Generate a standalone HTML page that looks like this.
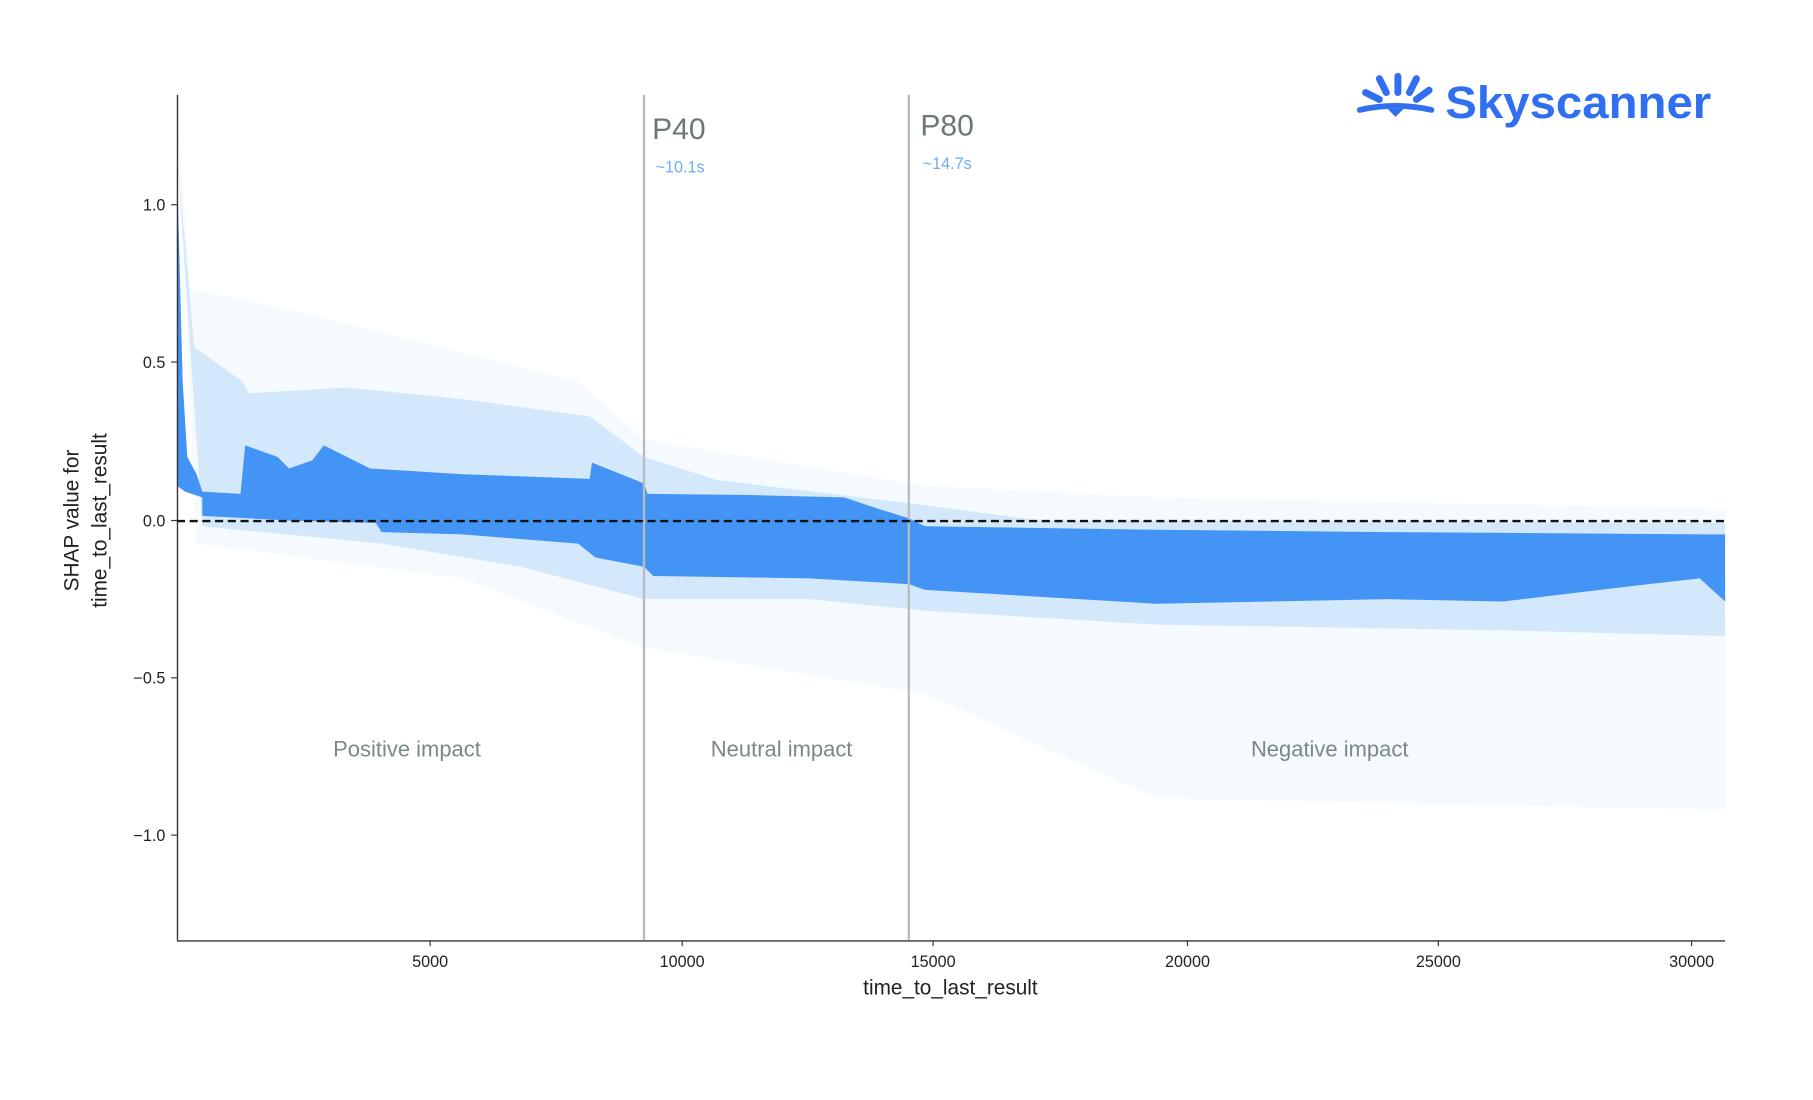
<!DOCTYPE html>
<html><head><meta charset="utf-8"><style>
html,body{margin:0;padding:0;background:#fff;width:1813px;height:1100px;overflow:hidden}
svg{display:block}
text{font-family:"Liberation Sans","DejaVu Sans",sans-serif}
</style></head><body>
<svg width="1813" height="1100" viewBox="0 0 1568 951" preserveAspectRatio="none">
<rect width="1568" height="951" fill="#fff"/>
<!-- faint halo -->
<polygon fill="#4394f5" opacity="0.05" points="153,100 165,250 215,260 300,280 500,330 557,380 800,420 1000,430 1492,440 1492,700 1000,690 800,600 557,560 400,500 170,470"/>
<!-- light halo -->
<polygon fill="#4394f5" opacity="0.18" points="153,130 168,300 210,330 215,340 300,335 400,345 510,360 557,395 620,415 786,435 900,450 1492,452 1492,550 1300,545 1000,540 800,528 700,518 557,518 450,490 330,470 175,455"/>
<!-- dense band -->
<polygon fill="#4394f5" points="153,140 158,330 162,395 170,410 175,425 208,427 212,385 240,395 250,405 270,398 280,385 300,395 320,405 400,410 510,414 512,400 557,418 560,427 650,428 730,430 760,440 786,448 800,455 1000,458 1200,460 1480,462 1492,462 1492,520 1470,500 1400,508 1300,520 1200,518 1000,522 900,516 800,510 786,505 700,500 565,498 557,490 515,482 500,470 400,462 330,460 325,452 250,450 175,446 175,430 160,425 153,420"/>
<!-- axes -->
<line x1="153.5" y1="82" x2="153.5" y2="813" stroke="#333" stroke-width="1.2"/>
<line x1="153" y1="813.5" x2="1492" y2="813.5" stroke="#333" stroke-width="1.2"/>
<!-- ticks -->
<g stroke="#333" stroke-width="1"><line x1="148" y1="177" x2="153" y2="177"/><line x1="148" y1="313" x2="153" y2="313"/><line x1="148" y1="450" x2="153" y2="450"/><line x1="148" y1="586" x2="153" y2="586"/><line x1="148" y1="722" x2="153" y2="722"/>
<line x1="372" y1="813" x2="372" y2="818"/><line x1="590" y1="813" x2="590" y2="818"/><line x1="807" y1="813" x2="807" y2="818"/><line x1="1027" y1="813" x2="1027" y2="818"/><line x1="1244" y1="813" x2="1244" y2="818"/><line x1="1463" y1="813" x2="1463" y2="818"/></g>
<g font-size="14" fill="#222" text-anchor="end"><text x="143" y="182">1.0</text><text x="143" y="318">0.5</text><text x="143" y="455">0.0</text><text x="143" y="591">−0.5</text><text x="143" y="727">−1.0</text></g>
<g font-size="14" fill="#222" text-anchor="middle"><text x="372" y="836">5000</text><text x="590" y="836">10000</text><text x="807" y="836">15000</text><text x="1027" y="836">20000</text><text x="1244" y="836">25000</text><text x="1463" y="836">30000</text></g>
<text x="822" y="860" font-size="18" fill="#222" text-anchor="middle">time_to_last_result</text>
<text transform="translate(68,450) rotate(-90)" font-size="18" fill="#222" text-anchor="middle">SHAP value for</text>
<text transform="translate(92,450) rotate(-90)" font-size="18" fill="#222" text-anchor="middle">time_to_last_result</text>
<!-- vlines -->
<line x1="557" y1="82" x2="557" y2="813" stroke="#b8bcbc" stroke-width="2"/>
<line x1="786" y1="82" x2="786" y2="813" stroke="#b8bcbc" stroke-width="2"/>
<!-- zero line -->
<line x1="153" y1="450.5" x2="1492" y2="450.5" stroke="#111" stroke-width="2" stroke-dasharray="7,4"/>
<text x="564" y="120" font-size="26" fill="#6b7878">P40</text>
<text x="567" y="149" font-size="14" fill="#6aaef0">~10.1s</text>
<text x="796" y="117" font-size="26" fill="#6b7878">P80</text>
<text x="798" y="146" font-size="14" fill="#6aaef0">~14.7s</text>
<g font-size="19" fill="#7b8888" text-anchor="middle"><text x="352" y="654">Positive impact</text><text x="676" y="654">Neutral impact</text><text x="1150" y="654">Negative impact</text></g>
<!-- logo -->
<g stroke="#2f6ff0" stroke-width="6" stroke-linecap="round" fill="none">
<line x1="1181" y1="80" x2="1193" y2="86"/><line x1="1193" y1="68" x2="1199" y2="80"/><line x1="1209" y1="66" x2="1209" y2="80"/><line x1="1225" y1="68" x2="1219" y2="80"/><line x1="1236" y1="78" x2="1225" y2="86"/>
<path d="M1176,95 Q1207,88 1238,95" stroke-width="5"/>
</g>
<path d="M1200,94 L1214,94 L1207,101 Z" fill="#2f6ff0"/>
<text x="1250" y="102" font-size="39" font-weight="bold" fill="#2f6ff0" textLength="230" lengthAdjust="spacingAndGlyphs">Skyscanner</text>
</svg>
</body></html>
